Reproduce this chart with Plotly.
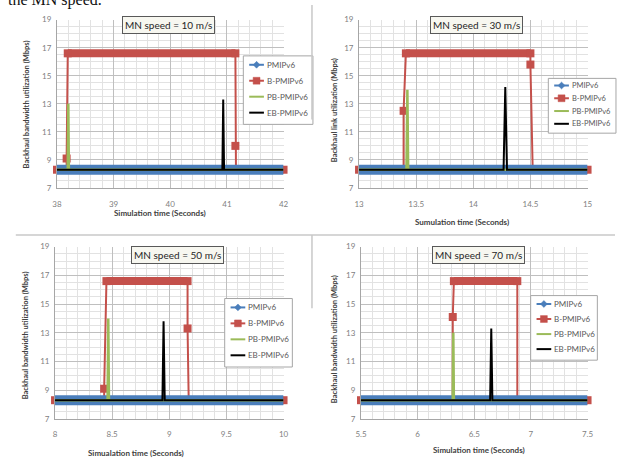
import plotly.graph_objects as go

W, H = 621, 463

# ---------------- data ----------------
SPEEDS = ["MN speed = 10 m/s", "MN speed = 30 m/s", "MN speed = 50 m/s", "MN speed = 70 m/s"]
X_RANGES = [[38, 42], [13, 15], [8, 10], [5.5, 7.5]]
X_DTICK = [1, 0.5, 0.5, 0.5]
X_MINOR = [0.2, 0.1, 0.1, 0.1]
Y_RANGE = [7, 19]
Y_TITLES = ["Backhaul bandwidth utilization (Mbps)", "Backhaul link utilization (Mbps)",
            "Backhaul bandwidth utilization (Mbps)", "Backhaul bandwidth utilization (Mbps)"]
X_TITLES = ["Simulation time (Seconds)", "Sumulation time (Seconds)",
            "Simualation time (Seconds)", "Simulation time (Seconds)"]
SERIES = ["PMIPv6", "B-PMIPv6", "PB-PMIPv6", "EB-PMIPv6"]

# PMIPv6 (flat baseline)
PM_X = [[38, 42], [13, 15], [8, 10], [5.5, 7.5]]
PM_Y = [[8.3, 8.3], [8.3, 8.3], [8.3, 8.3], [8.3, 8.3]]

# B-PMIPv6
B_X = [
    [38, 38.17, 38.17, 38.19, 41.15, 41.15, 41.16, 42],
    [13, 13.39, 13.39, 13.41, 14.5, 14.5, 14.52, 15],
    [8, 8.43, 8.43, 8.45, 9.16, 9.16, 9.17, 10],
    [5.5, 6.31, 6.31, 6.32, 6.88, 6.88, 7.5],
]
B_Y = [
    [8.3, 8.3, 9.1, 16.6, 16.6, 10.0, 8.3, 8.3],
    [8.3, 8.3, 12.5, 16.6, 16.6, 15.8, 8.3, 8.3],
    [8.3, 8.3, 9.1, 16.6, 16.6, 13.3, 8.3, 8.3],
    [8.3, 8.3, 14.1, 16.6, 16.6, 8.3, 8.3],
]

# PB-PMIPv6
PB_X = [
    [38, 38.19, 38.2, 38.21, 42],
    [13, 13.415, 13.423, 13.43, 15],
    [8, 8.46, 8.466, 8.472, 10],
    [5.5, 6.31, 6.315, 6.32, 7.5],
]
PB_Y = [
    [8.3, 8.3, 13.0, 8.3, 8.3],
    [8.3, 8.3, 14.0, 8.3, 8.3],
    [8.3, 8.3, 14.0, 8.3, 8.3],
    [8.3, 8.3, 13.0, 8.3, 8.3],
]

# EB-PMIPv6
EB_X = [
    [38, 40.92, 40.935, 40.95, 42],
    [13, 14.265, 14.28, 14.295, 15],
    [8, 8.94, 8.95, 8.96, 10],
    [5.5, 6.64, 6.65, 6.66, 7.5],
]
EB_Y = [
    [8.3, 8.3, 13.3, 8.3, 8.3],
    [8.3, 8.3, 14.2, 8.3, 8.3],
    [8.3, 8.3, 13.8, 8.3, 8.3],
    [8.3, 8.3, 13.3, 8.3, 8.3],
]

# ---------------- layout geometry (pixels) ----------------
PLOT_BOX = [(52, 283, 15, 187), (360, 593, 15, 187), (50, 283, 247, 423), (362, 593, 247, 423)]
LEGEND_BOX = [(242, 52, 71, 70), (553, 75, 69, 56), (223, 300, 69, 70), (535, 297, 68, 66)]
LEGEND_FONT = [8, 7.5, 8, 8]
TITLE_POS = [(166, 20), (480, 20), (174.5, 255.5), (482, 255.5)]
YT_POS = [(21, 102), (335, 108), (20, 338), (335, 342)]
XT_POS = [(157, 213), (465, 222), (133, 458), (482, 455)]

BLUE, RED, GREEN, BLACK = "#4A7EBB", "#C4504B", "#9BBB59", "#000000"
COLORS = [BLUE, RED, GREEN, BLACK]
FONT = "Lato"


def px(x):
    return x / W


def py(y):
    return 1 - y / H


fig = go.Figure()
annotations = []
shapes = []
layout = {}

for i in range(4):
    ax = "" if i == 0 else str(i + 1)
    xa, ya = "x" + ax, "y" + ax
    x0, x1, y0, y1 = PLOT_BOX[i]

    # thick plateau segments of B-PMIPv6 (dense markers in the original)
    bx, by = [], []
    xs, ys = B_X[i], B_Y[i]
    for k in range(len(xs) - 1):
        if ys[k] == ys[k + 1] and xs[k + 1] > xs[k]:
            bx += [xs[k], xs[k + 1], None]
            by += [ys[k], ys[k + 1], None]
    fig.add_trace(go.Scatter(x=bx, y=by, xaxis=xa, yaxis=ya, mode="lines",
                             line=dict(color=RED, width=8), cliponaxis=False,
                             hoverinfo="skip"))
    fig.add_trace(go.Scatter(x=xs, y=ys, xaxis=xa, yaxis=ya, mode="lines+markers",
                             name=SERIES[1], line=dict(color=RED, width=2),
                             marker=dict(symbol="square", size=8, color=RED),
                             cliponaxis=False))
    fig.add_trace(go.Scatter(x=PM_X[i], y=PM_Y[i], xaxis=xa, yaxis=ya, mode="lines",
                             name=SERIES[0], line=dict(color=BLUE, width=10)))
    fig.add_trace(go.Scatter(x=PB_X[i], y=PB_Y[i], xaxis=xa, yaxis=ya, mode="lines",
                             name=SERIES[2], line=dict(color=GREEN, width=2.5)))
    fig.add_trace(go.Scatter(x=EB_X[i], y=EB_Y[i], xaxis=xa, yaxis=ya, mode="lines",
                             name=SERIES[3], line=dict(color=BLACK, width=2)))

    layout["xaxis" + ax] = dict(
        domain=[px(x0), px(x1)], anchor=ya, range=X_RANGES[i], dtick=X_DTICK[i],
        tick0=X_RANGES[i][0], showgrid=True, gridcolor="#BFBFBF", gridwidth=1,
        minor=dict(dtick=X_MINOR[i], showgrid=True, gridcolor="#E2E2E2"),
        zeroline=False, showline=True, linecolor="#A6A6A6", ticks="",
        ticklabelstandoff=8, tickfont=dict(family=FONT, size=8, color="#7F7F7F"))
    layout["yaxis" + ax] = dict(
        domain=[py(y1), py(y0)], anchor=xa, range=Y_RANGE, dtick=2, tick0=7,
        showgrid=True, gridcolor="#BFBFBF", gridwidth=1,
        minor=dict(dtick=0.5, showgrid=True, gridcolor="#E2E2E2"),
        zeroline=False, showline=True, linecolor="#A6A6A6", ticks="",
        ticklabelstandoff=3, tickfont=dict(family=FONT, size=8, color="#7F7F7F"))

    # ---- legend box (drawn with shapes + text) ----
    lx, ly, lw, lh = LEGEND_BOX[i]
    shapes.append(dict(type="rect", xref="paper", yref="paper",
                       x0=px(lx), x1=px(lx + lw), y0=py(ly + lh), y1=py(ly),
                       fillcolor="white", line=dict(color="#A6A6A6", width=1)))
    for k in range(4):
        ry = ly + lh * 0.13 + k * lh * 0.233
        sx0, sx1 = lx + 6, lx + 21
        cx = (sx0 + sx1) / 2
        shapes.append(dict(type="line", xref="paper", yref="paper",
                           x0=px(sx0), x1=px(sx1), y0=py(ry), y1=py(ry),
                           line=dict(color=COLORS[k], width=2)))
        if k == 0:
            d = 3.5
            path = "M {} {} L {} {} L {} {} L {} {} Z".format(
                px(cx), py(ry - d), px(cx + d), py(ry), px(cx), py(ry + d), px(cx - d), py(ry))
            shapes.append(dict(type="path", xref="paper", yref="paper", path=path,
                               fillcolor=BLUE, line=dict(color=BLUE, width=0.5)))
        elif k == 1:
            d = 3.5
            shapes.append(dict(type="rect", xref="paper", yref="paper",
                               x0=px(cx - d), x1=px(cx + d), y0=py(ry + d), y1=py(ry - d),
                               fillcolor=RED, line=dict(color=RED, width=0.5)))
        annotations.append(dict(text=SERIES[k], x=px(lx + 22), y=py(ry), xref="paper",
                                yref="paper", showarrow=False, xanchor="left",
                                yanchor="middle",
                                font=dict(family=FONT, size=LEGEND_FONT[i], color="#595959")))

    tx, ty = TITLE_POS[i]
    annotations.append(dict(text=SPEEDS[i], x=px(tx), y=py(ty), xref="paper", yref="paper",
                            showarrow=False, font=dict(family=FONT, size=10, color="#262626"),
                            bgcolor="#F7F7F0", bordercolor="#595959", borderwidth=1,
                            borderpad=2, xanchor="center", yanchor="middle"))
    yx, yy = YT_POS[i]
    annotations.append(dict(text="<b>" + Y_TITLES[i] + "</b>", x=px(yx), y=py(yy),
                            xref="paper", yref="paper", showarrow=False, textangle=-90,
                            font=dict(family=FONT, size=7.5, color="#404040"),
                            xanchor="center", yanchor="middle"))
    xx, xy = XT_POS[i]
    annotations.append(dict(text="<b>" + X_TITLES[i] + "</b>", x=px(xx), y=py(xy),
                            xref="paper", yref="paper", showarrow=False,
                            font=dict(family=FONT, size=8, color="#404040"),
                            xanchor="center", yanchor="middle"))

# clipped caption text from the page above the figure
annotations.append(dict(text="the MN speed.", x=0, y=py(-5), xref="paper", yref="paper",
                        showarrow=False, xanchor="left", yanchor="middle",
                        font=dict(family="Liberation Serif", size=16, color="#111111")))

shapes += [
    dict(type="line", xref="paper", yref="paper", x0=px(312), x1=px(312), y0=py(0), y1=py(117),
         line=dict(color="#C8C8C8", width=1.5)),
    dict(type="line", xref="paper", yref="paper", x0=px(10), x1=px(621), y0=py(235), y1=py(235),
         line=dict(color="#C8C8C8", width=1.5)),
    dict(type="line", xref="paper", yref="paper", x0=px(312), x1=px(312), y0=py(235), y1=py(310),
         line=dict(color="#C8C8C8", width=1.5)),
]

fig.update_layout(width=W, height=H, margin=dict(l=0, r=0, t=0, b=0),
                  paper_bgcolor="white", plot_bgcolor="white", showlegend=False,
                  annotations=annotations, shapes=shapes, **layout)

fig.write_html("out.html", config={"displayModeBar": False},
               post_script="document.body.style.margin='0';document.body.style.overflow='hidden';")
